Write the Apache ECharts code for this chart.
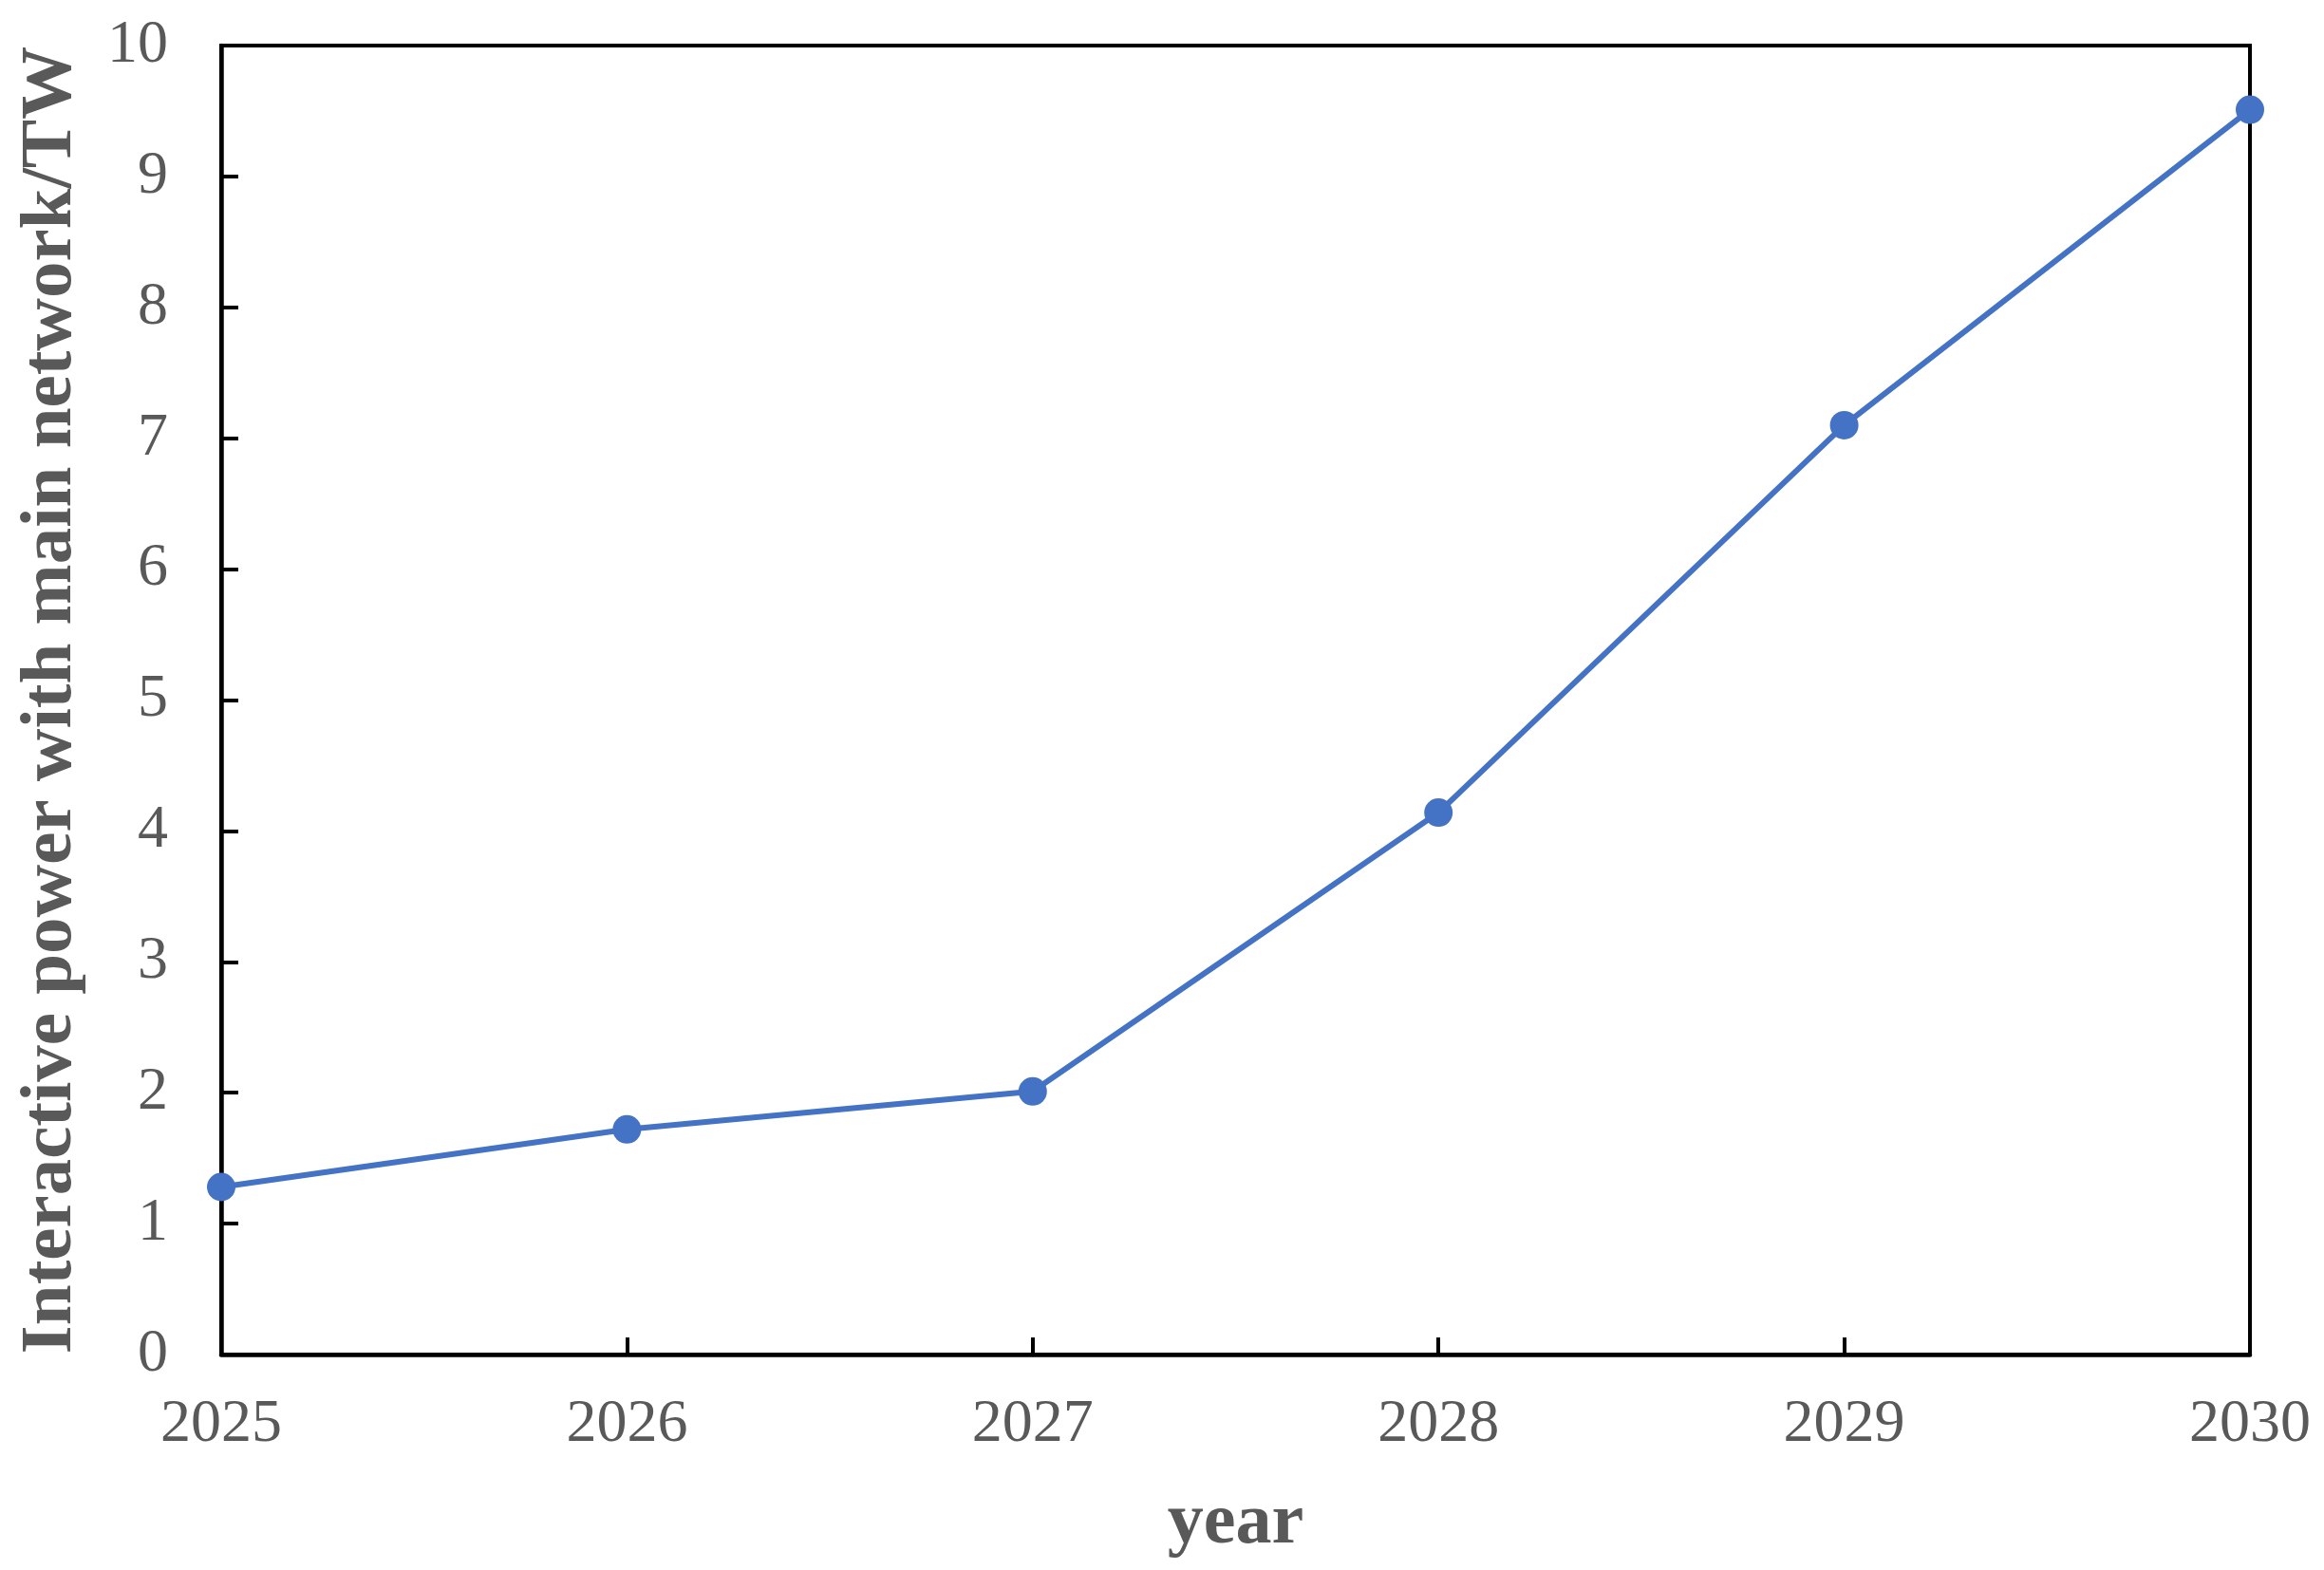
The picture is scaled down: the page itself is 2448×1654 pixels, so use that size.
<!DOCTYPE html>
<html>
<head>
<meta charset="utf-8">
<script src="https://cdn.jsdelivr.net/npm/echarts@6/dist/echarts.min.js"></script>
<style>
  html, body { margin: 0; padding: 0; background: #fff; }
  #chart { width: 2448px; height: 1654px; }
</style>
</head>
<body>
<div id="chart"></div>
<script>
// values
const years = ["2025", "2026", "2027", "2028", "2029", "2030"];
const power = [1.28, 1.72, 2.01, 4.14, 7.1, 9.51];

const chart = echarts.init(document.getElementById("chart"));
const font = "'Liberation Serif', 'Times New Roman', serif";

const option = {
  animation: false,
  grid: {
    left: 233,
    right: 78,
    top: 48,
    bottom: 227,
    show: true,
    borderColor: "#000",
    borderWidth: 4,
    backgroundColor: "transparent",
  },
  xAxis: {
    type: "category",
    data: years,
    boundaryGap: false,
    name: "year",
    nameLocation: "middle",
    nameGap: 140,
    nameTextStyle: { fontFamily: font, fontSize: 76, fontWeight: "bold", color: "#595959" },
    axisLine: { lineStyle: { color: "#000", width: 4.5 } },
    axisTick: { inside: true, length: 18, lineStyle: { color: "#000", width: 4 } },
    axisLabel: { margin: 42, fontFamily: font, fontSize: 64, color: "#595959" },
    splitLine: { show: false },
  },
  yAxis: {
    type: "value",
    min: 0,
    max: 10,
    interval: 1,
    name: "Interactive power with main network/TW",
    nameLocation: "middle",
    nameGap: 140,
    nameTextStyle: { fontFamily: font, fontSize: 77, fontWeight: "bold", color: "#595959" },
    axisLine: { show: true, lineStyle: { color: "#000", width: 4.5 } },
    axisTick: { show: true, inside: true, length: 18, lineStyle: { color: "#000", width: 4 } },
    axisLabel: { margin: 56, fontFamily: font, fontSize: 64, color: "#595959" },
    splitLine: { show: false },
  },
  series: [
    {
      type: "line",
      data: power,
      symbol: "circle",
      symbolSize: 30,
      lineStyle: { color: "#4472C4", width: 6 },
      itemStyle: { color: "#4472C4" },
    },
  ],
};

chart.setOption(option);
</script>
</body>
</html>
